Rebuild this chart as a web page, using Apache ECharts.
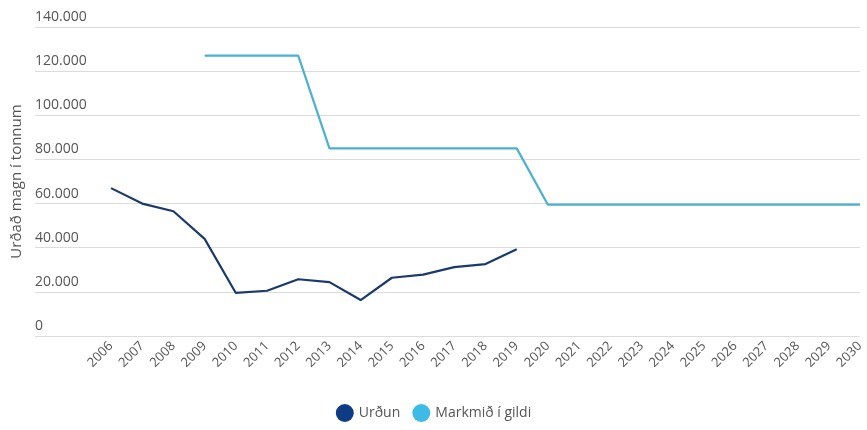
<!DOCTYPE html>
<html>
<head>
<meta charset="utf-8">
<script src="https://cdn.jsdelivr.net/npm/echarts@6/dist/echarts.min.js"></script>
<style>html,body{margin:0;padding:0;background:#fff}#c{width:867px;height:430px}</style>
</head>
<body>
<div id="c"></div>
<script>
const years = ['2006','2007','2008','2009','2010','2011','2012','2013','2014','2015','2016','2017','2018','2019','2020','2021','2022','2023','2024','2025','2026','2027','2028','2029','2030'];
const urdun = [67000, 60000, 56500, 44000, 19500, 20500, 25700, 24400, 16300, 26400, 27800, 31200, 32600, 39300, null, null, null, null, null, null, null, null, null, null, null];
const markmid = [null, null, null, 127000, 127000, 127000, 127000, 85000, 85000, 85000, 85000, 85000, 85000, 85000, 59500, 59500, 59500, 59500, 59500, 59500, 59500, 59500, 59500, 59500, 59500];
const yTicks = [0, 20000, 40000, 60000, 80000, 100000, 120000, 140000];
const seriesNames = ['Urðun', 'Markmið í gildi'];

const fmt = v => v === 0 ? '0' : String(v).replace(/\B(?=(\d{3})+(?!\d))/g, '.');
const font = 'Open Sans';
const chart = echarts.init(document.getElementById('c'));
chart.setOption({
  animation: false,
  textStyle: { fontFamily: font },
  grid: [
    { left: 35, right: 7, top: 27, bottom: 94 },
    { left: 111, right: 7, top: 27, bottom: 94 }
  ],
  legend: {
    bottom: 3,
    left: 'center',
    icon: 'circle',
    itemWidth: 18,
    itemHeight: 18,
    itemGap: 12,
    textStyle: { color: '#555', fontSize: 14, fontFamily: font },
    data: seriesNames
  },
  xAxis: [
    { gridIndex: 0, type: 'category', data: years, show: false },
    {
      gridIndex: 1, type: 'category', data: years, boundaryGap: false,
      axisLine: { show: false }, axisTick: { show: false },
      axisLabel: { rotate: 45, margin: 8, color: '#555', fontSize: 13, fontFamily: font, interval: 0 }
    }
  ],
  yAxis: [
    {
      gridIndex: 0, type: 'value', min: 0, max: 140000, interval: 20000,
      name: 'Urðað magn í tonnum', nameLocation: 'middle', nameGap: 10, nameRotate: 90,
      nameTextStyle: { color: '#555', fontSize: 15, fontFamily: font },
      axisLine: { show: false }, axisTick: { show: false },
      axisLabel: {
        inside: true, margin: 0, verticalAlign: 'bottom', padding: [0, 0, 3, 0],
        color: '#555', fontSize: 14, fontFamily: font,
        formatter: v => yTicks.includes(v) ? fmt(v) : ''
      },
      splitLine: { lineStyle: { color: '#dcdcdc', width: 1.2 } }
    },
    {
      gridIndex: 1, type: 'value', min: 0, max: 140000, interval: 20000, show: false,
      splitLine: { show: false }
    }
  ],
  series: [
    {
      name: seriesNames[0], type: 'line', xAxisIndex: 1, yAxisIndex: 1, data: urdun,
      showSymbol: false, symbol: 'circle', color: '#0d3c85',
      lineStyle: { color: '#1a3a6e', width: 2.2 }
    },
    {
      name: seriesNames[1], type: 'line', xAxisIndex: 1, yAxisIndex: 1, data: markmid,
      showSymbol: false, symbol: 'circle', color: '#3dbbe6',
      lineStyle: { color: '#4bb0d3', width: 2.2 }
    }
  ]
});
</script>
</body>
</html>
